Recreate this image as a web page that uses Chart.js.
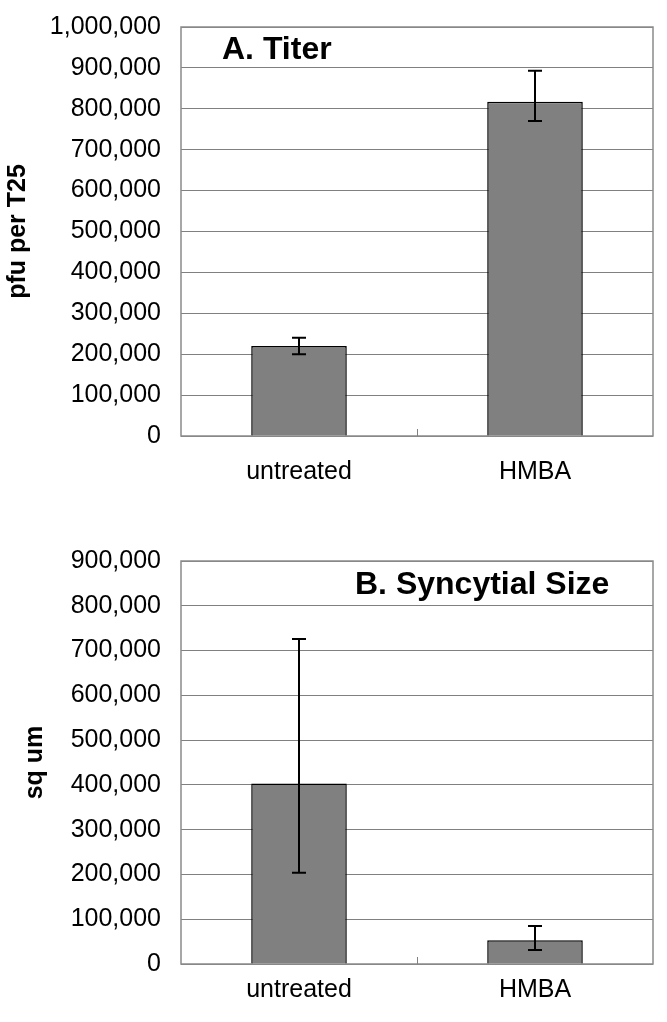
<!DOCTYPE html>
<html>
<head>
<meta charset="utf-8">
<script src="https://cdn.jsdelivr.net/npm/chart.js@4.4.1/dist/chart.umd.min.js"></script>
<style>
  html, body { margin: 0; padding: 0; background: #fff; }
  body { width: 667px; height: 1022px; position: relative; overflow: hidden; }
  canvas { position: absolute; left: 0; }
</style>
</head>
<body>
<canvas id="c1" width="667" height="500" style="top:0"></canvas>
<canvas id="c2" width="667" height="522" style="top:500px"></canvas>
<script>
// ---- data ----
const categories = ["untreated", "HMBA"];

const titerValues = [220000, 817000];
const titerErrLow = [200000, 770000];
const titerErrHigh = [240000, 893000];

const sizeValues = [403000, 53000];
const sizeErrLow = [204000, 31000];
const sizeErrHigh = [726000, 85000];

const titerTicksMax = 1000000;
const sizeTicksMax = 900000;
const tickStep = 100000;

// ---- plugins ----
const errorBarPlugin = {
  id: 'errorBars',
  afterDatasetsDraw(chart, args, opts) {
    const ctx = chart.ctx;
    const meta = chart.getDatasetMeta(0);
    const y = chart.scales.y;
    ctx.save();
    ctx.strokeStyle = '#000';
    ctx.lineWidth = 2;
    meta.data.forEach((bar, i) => {
      const x = Math.round(bar.x);
      const yLo = y.getPixelForValue(opts.low[i]);
      const yHi = y.getPixelForValue(opts.high[i]);
      const cap = 7;
      ctx.beginPath();
      ctx.moveTo(x, yLo); ctx.lineTo(x, yHi);
      ctx.moveTo(x - cap, yLo); ctx.lineTo(x + cap, yLo);
      ctx.moveTo(x - cap, yHi); ctx.lineTo(x + cap, yHi);
      ctx.stroke();
    });
    ctx.restore();
  }
};

const framePlugin = {
  id: 'frame',
  beforeDatasetsDraw(chart) {
    const {ctx, chartArea: a} = chart;
    const xs = chart.scales.x;
    ctx.save();
    ctx.strokeStyle = '#8a8a8a';
    ctx.lineWidth = 1.5;
    ctx.strokeRect(a.left, a.top, a.right - a.left, a.bottom - a.top);
    ctx.strokeStyle = '#808080';
    ctx.lineWidth = 1;
    for (let i = 0; i < xs.ticks.length - 1; i++) {
      const bx = Math.round((xs.getPixelForTick(i) + xs.getPixelForTick(i + 1)) / 2) + 0.5;
      ctx.beginPath();
      ctx.moveTo(bx, a.bottom); ctx.lineTo(bx, a.bottom - 7);
      ctx.stroke();
    }
    ctx.restore();
  }
};

const panelTitlePlugin = {
  id: 'panelTitle',
  afterDraw(chart, args, opts) {
    const ctx = chart.ctx;
    ctx.save();
    ctx.font = 'bold 32px "Liberation Sans", Arial, sans-serif';
    ctx.fillStyle = '#000';
    ctx.textBaseline = 'middle';
    ctx.textAlign = 'left';
    ctx.fillText(opts.text, opts.x, opts.y);
    ctx.restore();
  }
};

function makeChart(id, values, low, high, yMax, yTitle, titlePad, panelTitle, titleX, titleY, padTop, xHeight, xPad) {
  const canvas = document.getElementById(id);
  return new Chart(canvas, {
    type: 'bar',
    data: {
      labels: categories,
      datasets: [{
        data: values,
        backgroundColor: '#808080',
        borderColor: '#000',
        borderWidth: 1.5,
        barPercentage: 0.81,
        categoryPercentage: 0.5
      }]
    },
    options: {
      responsive: false,
      animation: false,
      devicePixelRatio: 1,
      layout: { padding: { top: padTop, right: 14, left: 0, bottom: 0 } },
      plugins: {
        legend: { display: false },
        tooltip: { enabled: false },
        errorBars: { low: low, high: high },
        panelTitle: { text: panelTitle, x: titleX, y: titleY }
      },
      scales: {
        x: {
          offset: true,
          grid: { display: false, drawTicks: false },
          border: { display: false },
          ticks: {
            color: '#000',
            padding: xPad,
            font: { family: '"Liberation Sans", Arial, sans-serif', size: 25 }
          },
          afterFit(scale) { scale.height = xHeight; scale.paddingLeft = 0; scale.paddingRight = 0; }
        },
        y: {
          min: 0,
          max: yMax,
          grid: { color: '#808080', lineWidth: 1, drawTicks: false },
          border: { display: false },
          ticks: {
            stepSize: tickStep,
            color: '#000',
            padding: 20,
            font: { family: '"Liberation Sans", Arial, sans-serif', size: 25 },
            callback: v => v.toLocaleString('en-US')
          },
          title: {
            display: true,
            text: yTitle,
            color: '#000',
            padding: { top: titlePad, bottom: 0 },
            font: { family: '"Liberation Sans", Arial, sans-serif', size: 25, weight: 'bold' }
          },
          afterFit(scale) { scale.width = 181; scale.paddingTop = 0; scale.paddingBottom = 0; }
        }
      }
    },
    plugins: [framePlugin, errorBarPlugin, panelTitlePlugin]
  });
}

makeChart('c1', titerValues, titerErrLow, titerErrHigh, titerTicksMax, 'pfu per T25', 3,
  'A. Titer', 222, 50, 27, 64, 21);
makeChart('c2', sizeValues, sizeErrLow, sizeErrHigh, sizeTicksMax, 'sq um', 20,
  'B. Syncytial Size', 355, 85, 61, 58, 11);
</script>
</body>
</html>
